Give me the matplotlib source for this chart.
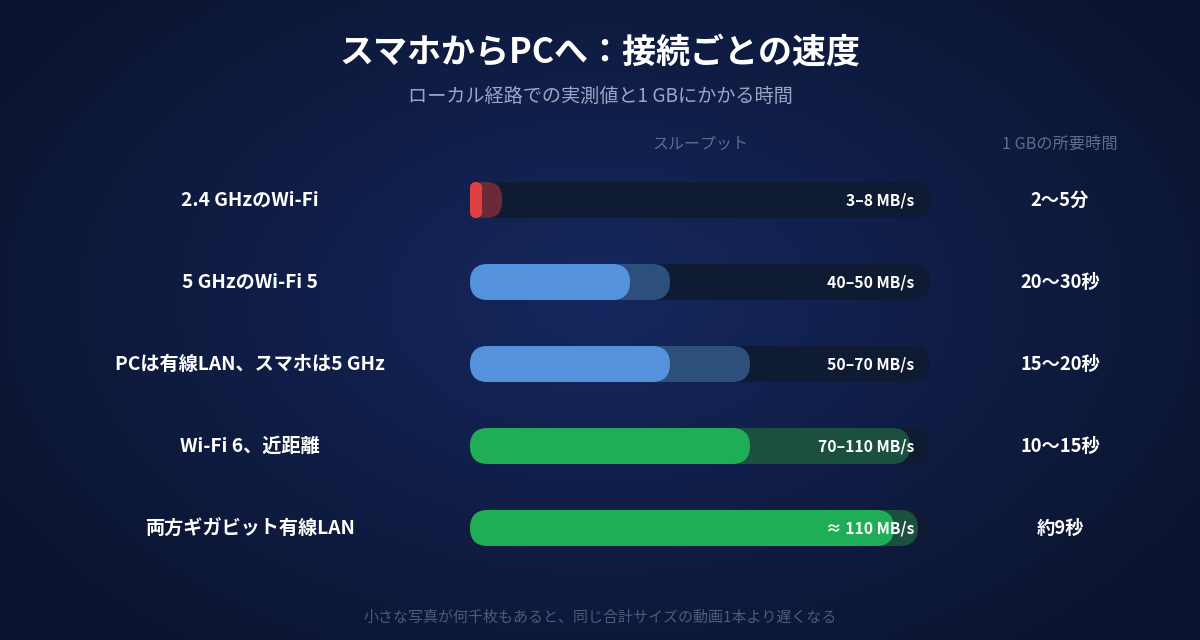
import numpy as np
import matplotlib.pyplot as plt
from matplotlib.patches import FancyBboxPatch

plt.rcParams['font.family'] = ['Noto Sans CJK JP', 'DejaVu Sans']

# ===== data =====
labels = ["2.4 GHzのWi-Fi", "5 GHzのWi-Fi 5", "PCは有線LAN、スマホは5 GHz", "Wi-Fi 6、近距離", "両方ギガビット有線LAN"]
speed_lo = [3, 40, 50, 70, 106]
speed_hi = [8, 50, 70, 110, 112]
speed_text = ["3–8 MB/s", "40–50 MB/s", "50–70 MB/s", "70–110 MB/s", "≈ 110 MB/s"]
time_text = ["2〜5分", "20〜30秒", "15〜20秒", "10〜15秒", "約9秒"]
solid_col = ["#e0403f", "#5592dd", "#5592dd", "#1fae55", "#1fae55"]
light_col = ["#6b2a36", "#2c4f7b", "#2c4f7b", "#1b4f40", "#1b4f40"]
scale_max = 115

W, H = 1200, 640
fig = plt.figure(figsize=(12, 6.4), dpi=100)
ax = fig.add_axes([0, 0, 1, 1])
ax.set_xlim(0, W); ax.set_ylim(H, 0); ax.axis("off")

# background radial gradient
yy, xx = np.mgrid[0:H, 0:W]
d = np.sqrt(((xx - 600) / 700) ** 2 + ((yy - 300) / 450) ** 2)
c0 = np.array([0x15, 0x27, 0x5e]) / 255
c1 = np.array([0x0b, 0x14, 0x2e]) / 255
t = np.clip(d, 0, 1)[..., None]
ax.imshow(c0 * (1 - t) + c1 * t, extent=[0, W, H, 0], zorder=0, aspect="auto")

x0, track_w, bh = 470, 460, 36
def px(v):
    return track_w * v / scale_max

def bar(x, y, w, color, z):
    r = min(bh / 2, w / 2)
    ax.add_patch(FancyBboxPatch((x, y - bh / 2), w, bh, boxstyle=f"round,pad=0,rounding_size={r}",
                                fc=color, ec="none", zorder=z))

ax.text(600, 52, "スマホからPCへ：接続ごとの速度", color="white", fontsize=24.5, fontweight="bold", ha="center", va="center")
ax.text(600, 96, "ローカル経路での実測値と1 GBにかかる時間", color="#9aa6c4", fontsize=13.8, ha="center", va="center")
ax.text(700, 144, "スループット", color="#5f6c8c", fontsize=11.5, ha="center", va="center")
ax.text(1060, 144, "1 GBの所要時間", color="#5f6c8c", fontsize=11.7, ha="center", va="center")

for i, lab in enumerate(labels):
    y = 200 + 82 * i
    ax.text(250, y, lab, color="white", fontsize=13.8, fontweight="bold", ha="center", va="center")
    bar(x0, y, track_w, "#0f1a33", 2)
    bar(x0, y, px(speed_hi[i]), light_col[i], 3)
    bar(x0, y, px(speed_lo[i]), solid_col[i], 4)
    ax.text(914, y, speed_text[i], color="white", fontsize=11.3, fontweight="bold", ha="right", va="center", zorder=5)
    ax.text(1060, y, time_text[i], color="white", fontsize=13.2, fontweight="bold", ha="center", va="center")

ax.text(600, 618, "小さな写真が何千枚もあると、同じ合計サイズの動画1本より遅くなる", color="#4f5b7a", fontsize=10.8, ha="center", va="center")

fig.savefig("out.png", dpi=100)
